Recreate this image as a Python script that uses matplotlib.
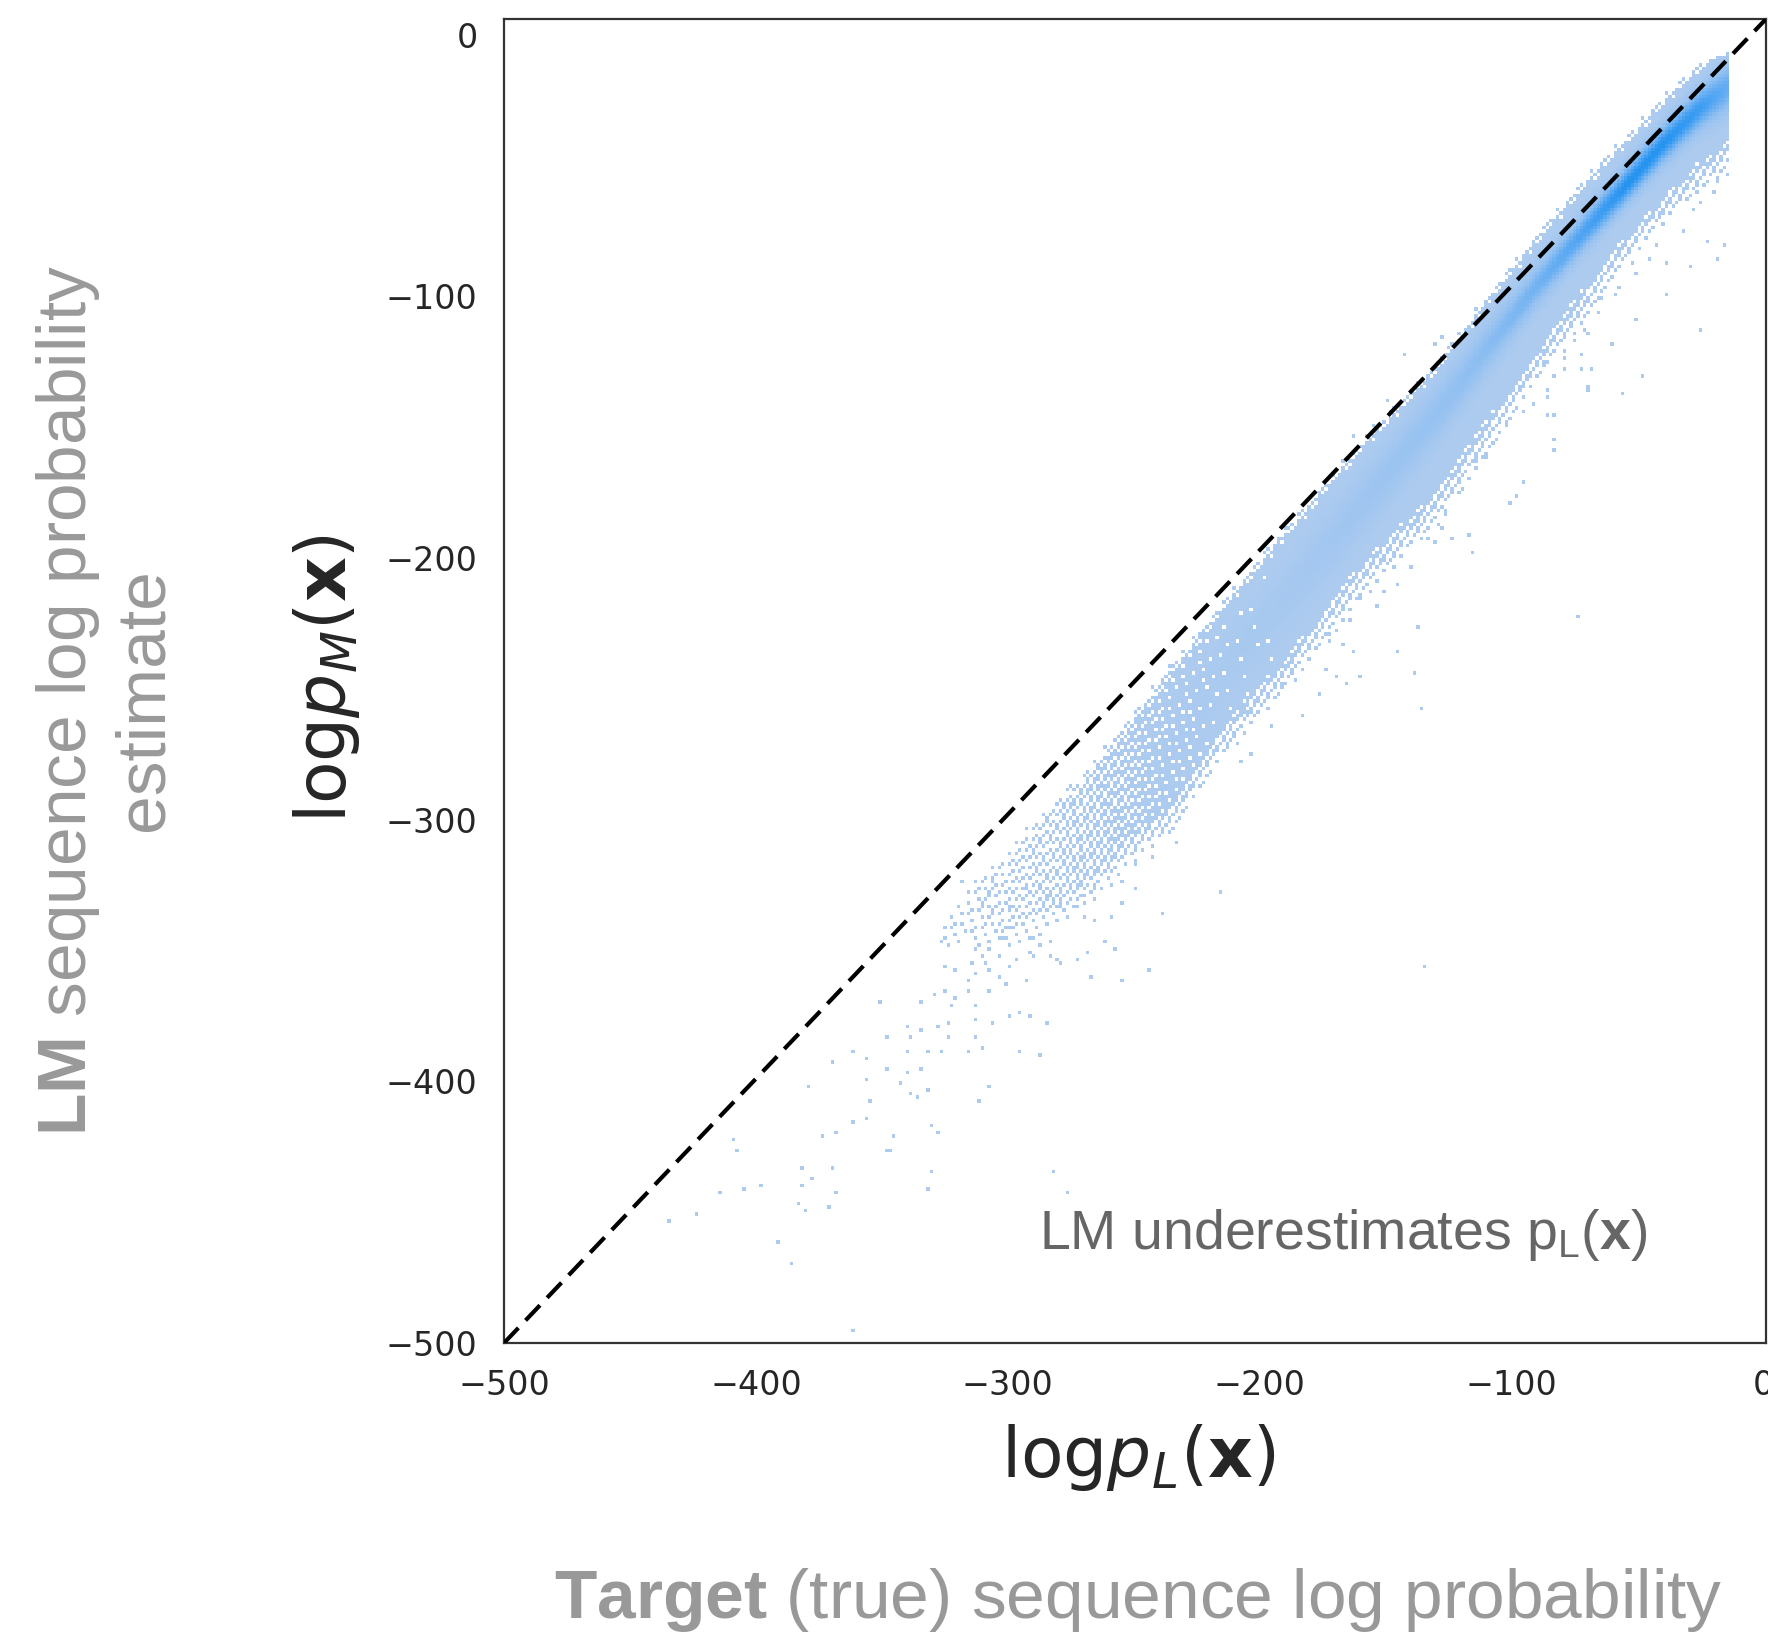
import numpy as np
import matplotlib
matplotlib.use("Agg")
import matplotlib.pyplot as plt
from matplotlib.colors import LinearSegmentedColormap, Normalize

# ---------------- data ----------------
# dense band of the 2-D histogram, described column-wise at knots along x
band_x      = [-325, -310, -295, -280, -265, -250, -235, -215, -190, -160, -130, -110, -90, -70, -55, -40, -25, -14]
band_upper  = [-338, -324, -310, -296, -282, -264, -246, -222, -194, -161, -131, -105, -81, -59, -44, -29, -14, -8]
band_lower  = [-346, -344, -340, -332, -320, -306, -294, -264, -238, -202, -174, -147, -120, -95, -77, -62, -48, -40]
band_fill   = [0.15, 0.2, 0.3, 0.42, 0.55, 0.7, 0.85, 0.95, 1, 1, 1, 1, 1, 1, 1, 1, 1, 1]
fringe_up   = [4, 5, 6, 6, 6, 6, 6, 6, 6, 6, 6, 6, 6, 6, 6, 6, 5, 3]
fringe_lo   = [6, 8, 10, 10, 12, 12, 14, 14, 15, 16, 16, 16, 14, 14, 12, 12, 14, 14]
band_core   = [-342, -334, -325, -314, -301, -285, -270, -243, -215, -180, -145, -120, -96, -74, -58, -42, -28, -20]
band_peak   = [0, 0, 0, 0, 0, 0, 0.02, 0.04, 0.08, 0.16, 0.26, 0.36, 0.52, 0.78, 1.0, 1.0, 0.85, 0.6]
band_sigma  = [10, 10, 10, 10, 10, 10, 10, 9, 8, 8, 7, 6, 5, 4.5, 4.5, 4.5, 5, 6]

# isolated low-count cells (x, y)
outlier_x = [-361.6, -434.2, -423.9, -414.5, -405.4, -397.5, -409.2, -408.0, -390.9, -385.6,
             -381.5, -381.8, -377.7, -368.6, -371.2, -383.0, -380.8, -369.8, -373.6, -368.6,
             -361.8, -356.7, -348.4, -346.6, -345.0, -330.6, -328.0, -330.8, -331.4, -282.3,
             -276.9, -378.9, -369.8, -361.8, -356.7, -356.7, -354.9, -347.6, -342.5, -338.2,
             -335.9, -331.8, -339.7, -334.4, -340.0, -331.7, -326.8, -314.9, -309.8, -307.1,
             -310.9, -295.3, -287.6, -347.8, -338.2, -334.4, -339.7, -328.3, -323.0, -312.8,
             -323.3, -312.4, -305.8, -299.4, -295.2, -291.5, -284.8, -312.4, -322.2, -334.7,
             -350.4, -329.4, -325.3, -321.5, -316.2, -307.0, -301.0, -292.6, -325.3, -321.0,
             -316.2, -314.6, -313.1, -309.3, -307.0, -304.0, -299.4, -296.4, -290.3, -282.7,
             -279.7, -272.8, -267.8, -266.3, -254.6, -244.0, -215.6, -239.0, -257.6, -261.4,
             -326.8, -318.7, -305.8, -310.1, -307.0, -305.5, -313.1, -310.1, -307.0, -302.5,
             -299.4, -296.4, -292.6, -290.3, -286.5, -282.7, -280.4, -291.8, -303.2, -298.7,
             -294.9, -292.6, -288.8, -285.0, -279.7, -276.6, -272.8, -269.0, -265.2, -259.2,
             -254.6, -249.3, -243.2, -232.6, -249.3, -255.4, -265.0, -271.1, -269.6,
             # right part, below the band
             -134.1, -73.7, -136.9, -135.6, -138.2, -144.6, -163.1, -160.4, -165.7, -182.7,
             -177.0, -173.0, -169.3, -167.1, -116.1, -117.0, -124.0, -130.7, -94.9, -97.6,
             -100.2, -83.7, -83.0, -86.1, -79.7, -71.7, -68.4, -69.8, -72.4, -83.7,
             -91.6, -94.9, -101.5, -106.2, -109.5, -114.1, -121.4, -126.0, -127.4, -133.3,
             -139.3, -144.6, -150.5, -153.8, -160.4, -164.4, -172.4, -177.7, -181.6, -186.9,
             -190.9, -196.2, -203.5, -206.1, -202.8, -206.8, -210.7, -213.4, -217.4, -194.9,
             -85.7, -71.1, -69.8, -79.7, -87.6,
             -16.2, -18.8, -25.4, -38.7, -47.9, -50.6, -55.9, -59.9, -69.8, -71.8,
             -38.7, -29.4, -32.0, -22.8, -19.4, -18.1, -17.5, -23.5, -28.1, -32.7,
             -26.7, -25.4, -45.3, -42.0, -50.6, -51.9, -57.2, -59.2, -63.8, -65.8,
             -67.8, -70.4, -74.4, -78.4, -79.7, -83.7, -88.9, -90.3, -86.3, -79.7,
             # above the band
             -141.9, -130.0, -127.4, -149.9, -155.2, -163.1, -176.3, -189.6, -192.2, -205.5,
             -224.0, -235.9, -247.8, -261.1]
outlier_y = [-495.7, -453.4, -450.9, -442.3, -440.9, -439.3, -422.5, -425.9, -461.8, -469.4,
             -433.2, -439.3, -437.7, -442.3, -448.4, -446.6, -449.7, -433.2, -421.2, -419.8,
             -415.1, -413.8, -425.9, -425.9, -421.2, -416.9, -419.8, -434.6, -441.3, -434.6,
             -442.4, -401.7, -392.7, -388.3, -391.4, -398.8, -407.8, -395.7, -400.4, -404.4,
             -406.1, -403.5, -397.0, -395.7, -388.0, -388.0, -388.0, -388.0, -386.7, -401.7,
             -407.5, -388.0, -389.6, -383.6, -383.3, -380.9, -378.9, -378.9, -383.6, -383.3,
             -377.3, -376.2, -377.6, -374.6, -373.6, -374.5, -377.6, -371.5, -371.5, -369.5,
             -369.9, -366.8, -365.9, -368.2, -365.5, -365.5, -362.8, -361.1, -356.5, -358.1,
             -361.5, -354.1, -358.8, -354.4, -356.8, -359.5, -356.5, -353.4, -351.4, -352.1,
             -355.4, -353.4, -350.1, -359.5, -362.1, -357.9, -327.7, -335.3, -348.7, -346.1,
             -346.1, -323.5, -323.5, -331.3, -328.0, -334.0, -348.7, -351.4, -348.7, -344.7,
             -340.7, -339.3, -336.7, -344.7, -347.4, -346.1, -352.8, -350.1, -351.4, -332.6,
             -328.6, -325.9, -323.3, -329.3, -332.6, -336.7, -332.6, -336.7, -338.0, -336.7,
             -331.3, -325.9, -313.9, -308.5, -317.2, -323.3, -325.9, -323.3, -328.6,
             -356.0, -222.4, -226.8, -257.0, -243.4, -236.0, -236.0, -245.0, -248.1, -260.2,
             -252.7, -242.1, -245.0, -233.2, -198.4, -191.1, -192.4, -193.9, -171.4, -175.8,
             -179.0, -159.3, -154.8, -145.9, -127.8, -127.8, -127.8, -135.4, -121.7, -144.6,
             -140.8, -144.0, -149.7, -154.8, -161.2, -162.5, -175.2, -181.6, -187.9, -193.0,
             -203.2, -209.6, -213.4, -218.5, -216.0, -223.6, -228.7, -230.0, -236.4, -242.7,
             -247.8, -253.6, -258.0, -259.3, -275.2, -277.8, -266.9, -270.8, -273.3, -264.4,
             -138.3, -107.7, -114.0, -120.4, -125.5,
             -80.9, -85.4, -112.8, -99.4, -130.6, -108.3, -136.9, -118.5, -135.0, -127.4,
             -87.2, -88.5, -74.5, -78.4, -60.3, -56.1, -42.0, -52.9, -66.3, -62.5,
             -60.5, -64.3, -86.0, -80.9, -91.1, -87.3, -96.2, -98.8, -101.3, -105.8,
             -103.9, -112.2, -117.2, -123.6, -120.4, -130.0, -120.4, -125.5, -135.7, -128.0,
             -121.7, -117.9, -116.0, -139.5, -149.1, -153.5, -175.2, -187.9, -193.0, -210.9,
             -228.7, -241.5, -258.0, -272.0]

xticks = [-500, -400, -300, -200, -100, 0]
yticks = [-500, -400, -300, -200, -100, 0]

xlabel_math = r"$\mathrm{log}p_L(\mathbf{x})$"
ylabel_math = r"$\mathrm{log}p_M(\mathbf{x})$"
xlabel_plain = r"$\mathbf{Target}$ (true) sequence log probability"
ylabel_plain = "$\\mathbf{LM}$ sequence log probability\nestimate"
annotation = r"LM underestimates $\mathrm{p}_\mathrm{L}(\mathbf{x})$"

# ---------------- styling ----------------
plt.rcParams["mathtext.fontset"] = "custom"
plt.rcParams["mathtext.rm"] = "Liberation Sans"
plt.rcParams["mathtext.it"] = "Liberation Sans:italic"
plt.rcParams["mathtext.bf"] = "Liberation Sans:bold"

W, H = 1768, 1635
fig = plt.figure(figsize=(W / 100, H / 100), dpi=100)
ax = fig.add_axes([504 / W, 1 - 1343 / H, (1766 - 504) / W, (1343 - 19) / H])

# histogram grid (bin width ~1.35 units)
nb = 370
xe = np.linspace(-500, 0, nb + 1)
ye = np.linspace(-500, 0, nb + 1)
xc = 0.5 * (xe[:-1] + xe[1:])
yc = 0.5 * (ye[:-1] + ye[1:])
Z = np.full((nb, nb), np.nan)
bx = np.array(band_x, float)
prof = {k: np.interp(xc, bx, v) for k, v in dict(
    up=band_upper, lo=band_lower, fill=band_fill, fu=fringe_up, fl=fringe_lo,
    core=band_core, pk=band_peak, sg=band_sigma).items()}

# ordered (deterministic) dither threshold used to render partial occupancy
I, J = np.meshgrid(np.arange(nb), np.arange(nb))
thr = np.mod(52.9829189 * np.mod(0.06711056 * I + 0.00583715 * J, 1.0), 1.0)

for j, x in enumerate(xc):
    if x < bx.min() or x > bx.max():
        continue
    up, lo = prof["up"][j], prof["lo"][j]
    fu, fl, fill = prof["fu"][j], prof["fl"][j], prof["fill"][j]
    occ = np.zeros(nb)
    inside = (yc >= lo) & (yc <= up)
    occ[inside] = fill
    above = (yc > up) & (yc <= up + fu)
    occ[above] = fill * (1 - (yc[above] - up) / fu)
    below = (yc < lo) & (yc >= lo - fl)
    occ[below] = fill * (1 - (lo - yc[below]) / fl) * 0.8
    keep = occ > thr[:, j] * 0.999 + (occ >= 1) * -1
    keep &= occ > 0
    g = np.exp(-0.5 * ((yc - prof["core"][j]) / prof["sg"][j]) ** 2)
    Z[keep, j] = prof["pk"][j] * g[keep]

Hc, _, _ = np.histogram2d(outlier_x, outlier_y, bins=[xe, ye])
Z[(Hc.T > 0) & np.isnan(Z)] = 0.0

cmap = LinearSegmentedColormap.from_list(
    "blues", [(0.0, "#adcbef"), (0.3, "#92c0f1"), (0.7, "#56a7f2"), (1.0, "#2493f0")])
ax.pcolormesh(xe, ye, np.ma.masked_invalid(Z), cmap=cmap, norm=Normalize(0, 1),
              shading="flat", zorder=1)

ax.plot([0, 1], [0, 1], transform=ax.transAxes, color="black", lw=3.0,
        dashes=(5, 2.5), zorder=3, dash_capstyle="butt")

ax.set_xlim(-500, 1)
ax.set_ylim(-500, 6)
ax.set_xticks(xticks)
ax.set_yticks(yticks)
ax.tick_params(length=0, pad=19, labelsize=24, labelcolor="#262626")
for s in ax.spines.values():
    s.set_color("#333333")
    s.set_linewidth(1.6)

ax.text(-287.5, -464, annotation, fontsize=40, color="#666666",
        family="Liberation Sans", va="baseline", ha="left")

fig.text(1138 / W, 1 - 1457 / H, xlabel_math, fontsize=50, color="#262626",
         ha="center", va="center", math_fontfamily="dejavusans")
fig.text(327 / W, 1 - 679 / H, ylabel_math, fontsize=50, color="#262626",
         ha="center", va="center", rotation=90, math_fontfamily="dejavusans")
fig.text(1138 / W, 1 - 1618 / H, xlabel_plain, fontsize=50, color="#999999",
         family="Liberation Sans", ha="center", va="baseline")
fig.text(105 / W, 1 - 700 / H, ylabel_plain, fontsize=50, color="#999999",
         family="Liberation Sans", ha="center", va="center", rotation=90,
         multialignment="center")

fig.savefig("out.png", dpi=100)
